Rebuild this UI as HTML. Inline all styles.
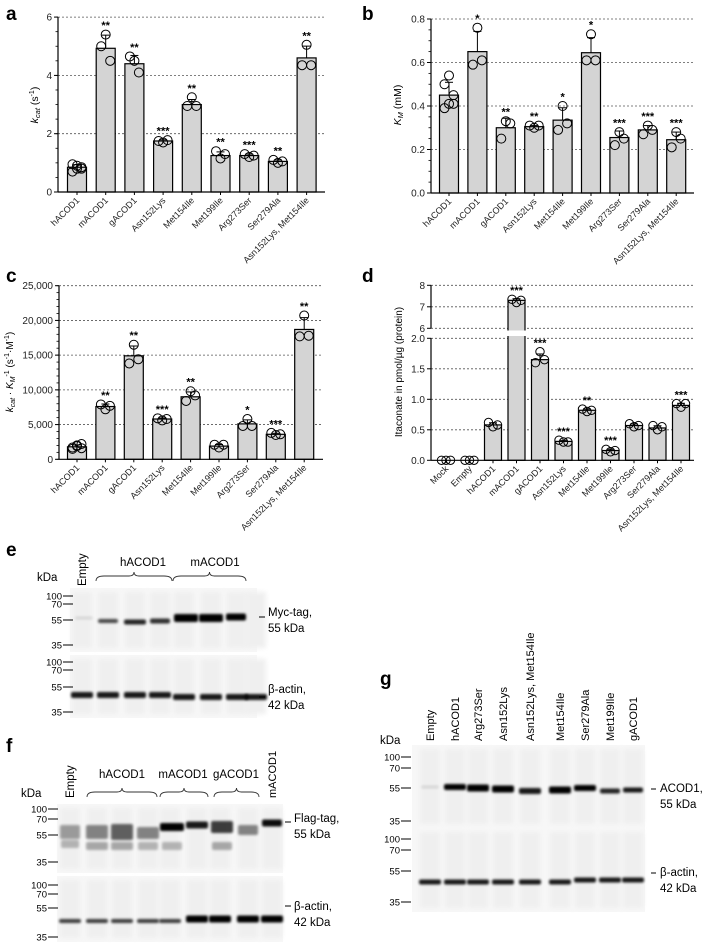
<!DOCTYPE html>
<html><head><meta charset="utf-8">
<style>
html,body{margin:0;padding:0;background:#fff;}
svg{display:block;font-family:"Liberation Sans",Arial,sans-serif;}
</style></head>
<body>
<svg id="fig" width="708" height="945" viewBox="0 0 708 945" xmlns="http://www.w3.org/2000/svg">
<defs>
<filter id="blur1" x="-20%" y="-100%" width="140%" height="300%"><feGaussianBlur stdDeviation="1.2"/></filter>
<filter id="blur2" x="-20%" y="-100%" width="140%" height="300%"><feGaussianBlur stdDeviation="2.5"/></filter>
</defs>
</svg>
<script>
// ---- Panel a data ----
const catsA = ["hACOD1","mACOD1","gACOD1","Asn152Lys","Met154Ile","Met199Ile","Arg273Ser","Ser279Ala","Asn152Lys, Met154Ile"];
const meansA = [0.85,4.93,4.4,1.75,3.0,1.25,1.25,1.05,4.6];
const ptsA = [[0.7,0.8,0.85,0.95,0.9,0.8],[5.4,5.0,4.5],[4.5,4.65,4.1],[1.7,1.75,1.78],[3.25,2.95,2.95],[1.15,1.4,1.3],[1.2,1.3,1.25],[1.0,1.1,1.05],[5.05,4.35,4.35]];
const sigA = ["","**","**","***","**","**","***","**","**"];
const ticksA = [0,2,4,6];
// ---- Panel b data ----
const catsB = catsA;
const meansB = [0.45,0.65,0.30,0.305,0.335,0.645,0.255,0.29,0.245];
const ptsB = [[0.39,0.41,0.45,0.5,0.54,0.41],[0.76,0.59,0.61],[0.33,0.25,0.32],[0.30,0.31,0.31],[0.40,0.29,0.32],[0.73,0.61,0.61],[0.28,0.22,0.25],[0.31,0.27,0.29],[0.28,0.21,0.25]];
const sigB = ["","*","**","**","*","*","***","***","***"];
const ticksB = [0,0.2,0.4,0.6,0.8];
const tickLabB = ["0.0","0.2","0.4","0.6","0.8"];
// ---- Panel c data ----
const catsC = catsA;
const meansC = [1800,7600,14900,5800,9000,1900,5100,3600,18700];
const ptsC = [[1500,1900,2200,1700,2000,1600],[7200,7900,7700],[16500,13800,14400],[5600,5900,5800],[9800,8400,9200],[1700,2100,2100],[5800,4800,4800],[3500,3800,3600],[20700,17700,17800]];
const sigC = ["","**","**","***","**","","*","***","**"];
const ticksC = [0,5000,10000,15000,20000,25000];
const tickLabC = ["0","5,000","10,000","15,000","20,000","25,000"];
// ---- Panel d data ----
const catsD = ["Mock","Empty","hACOD1","mACOD1","gACOD1","Asn152Lys","Met154Ile","Met199Ile","Arg273Ser","Ser279Ala","Asn152Lys, Met154Ile"];
const meansD = [0,0,0.58,7.3,1.65,0.31,0.82,0.16,0.57,0.53,0.9];
const ptsD = [[0,0,0],[0,0,0],[0.55,0.62,0.58],[7.2,7.35,7.3],[1.78,1.6,1.65],[0.3,0.33,0.3],[0.8,0.84,0.82],[0.14,0.18,0.16],[0.55,0.6,0.57],[0.5,0.57,0.55],[0.87,0.93,0.93]];
const sigD = ["","","","***","***","***","**","***","","","***"];
const ticksDlow = [0,0.5,1.0,1.5,2.0];
const tickLabDlow = ["0.0","0.5","1.0","1.5","2.0"];
const ticksDhigh = [6,7,8];

const NS="http://www.w3.org/2000/svg";
const fig=document.getElementById('fig');
function mk(tag,attrs,parent,text){const e=document.createElementNS(NS,tag);for(const k in attrs)e.setAttribute(k,attrs[k]);if(text!==undefined)e.textContent=text;(parent||fig).appendChild(e);return e;}
function sd(a){const m=a.reduce((s,v)=>s+v,0)/a.length;return Math.sqrt(a.reduce((s,v)=>s+(v-m)*(v-m),0)/(a.length-1));}

function drawChart(name,cfg,cats,means,pts,sig,ticks,tickLabs,minorStep){
  const g=mk('g',{});
  
  
  const y=cfg.y;
  const cx=i=>cfg.x0+i*cfg.step;
  ticks.forEach((t,i)=>{
    const yy=y(t);
    if(cfg.grid(t)){const l=mk('line',{x1:cfg.ox,x2:cfg.xr,y1:yy,y2:yy,stroke:'#555','stroke-width':0.8,'stroke-dasharray':'2,2'},g);
      }
  });
  cats.forEach((c,i)=>{
    const x=cx(i), top=y(means[i]), base=y(0);
    const r=mk('rect',{x:x-cfg.bw/2,y:top,width:cfg.bw,height:Math.max(0,base-top),fill:'#d4d4d4',stroke:'#000','stroke-width':1.2},g);
    
    
  });
  if(cfg.afterBars)cfg.afterBars(g);
  cats.forEach((c,i)=>{
    const x=cx(i);
    const s=sd(pts[i]);
    const eTop=y(means[i]+s);
    if(means[i]>0){
      mk('line',{x1:x,x2:x,y1:y(means[i]),y2:eTop,stroke:'#000','stroke-width':1},g);
      mk('line',{x1:x-4,x2:x+4,y1:eTop,y2:eTop,stroke:'#000','stroke-width':1},g);
    }
    const n=pts[i].length;
    let minY=eTop;
    pts[i].forEach((v,j)=>{
      const off=(n===3)?[0,-4.5,4.5][j]:((j%3)-1)*4.5;
      const py=y(v);
      const ci=mk('circle',{cx:x+off,cy:py,r:cfg.r,fill:'none',stroke:'#000','stroke-width':1},g);
      
      
      minY=Math.min(minY,py-cfg.r);
    });
    if(sig[i]){const t=mk('text',{x:x,y:minY-1,'font-size':11,'text-anchor':'middle','font-weight':'bold'},g,sig[i]);
      }
    const lb=mk('text',{x:x+3,y:cfg.y0+9,'font-size':9,'text-anchor':'end',fill:'#222',transform:`rotate(-45 ${x+3} ${cfg.y0+9})`},g,c);
    
    mk('line',{x1:x,x2:x,y1:cfg.y0,y2:cfg.y0+3,stroke:'#000','stroke-width':1},g);
  });
  mk('line',{x1:cfg.ox,x2:cfg.xr,y1:cfg.y0,y2:cfg.y0,stroke:'#000','stroke-width':1.2},g);
  if(cfg.yaxis)cfg.yaxis(g); else {
    mk('line',{x1:cfg.ox,x2:cfg.ox,y1:y(ticks[ticks.length-1]),y2:cfg.y0,stroke:'#000','stroke-width':1.2},g);
    if(minorStep){for(let v=ticks[0];v<=ticks[ticks.length-1]+1e-9;v+=minorStep){mk('line',{x1:cfg.ox-2.5,x2:cfg.ox,y1:y(v),y2:y(v),stroke:'#000','stroke-width':0.8},g);}}
    ticks.forEach((t,i)=>{
      mk('line',{x1:cfg.ox-4,x2:cfg.ox,y1:y(t),y2:y(t),stroke:'#000','stroke-width':1},g);
      const tl=mk('text',{x:cfg.ox-6,y:y(t)+3.5,'font-size':10,'text-anchor':'end',fill:'#222'},g,tickLabs[i]);
      
    });
  }
  return g;
}
function panelLetter(l,x,yy){const t=mk('text',{x:x,y:yy,'font-size':19,'font-weight':'bold'},fig,l);}

panelLetter('a',6,20);
drawChart('chart-a',{ox:58,xr:325,y0:192,x0:77,step:28.7,bw:19,r:4.5,y:v=>192-v*29.15,grid:t=>t>0},catsA,meansA,ptsA,sigA,ticksA,ticksA.map(String),0.5);
{const t=mk('text',{x:38,y:105,'font-size':10.5,'text-anchor':'middle',transform:'rotate(-90 38 105)'});
 t.innerHTML='<tspan font-style="italic">k</tspan><tspan font-style="italic" font-size="7.5" dy="2">cat</tspan><tspan dy="-2"> (s</tspan><tspan font-size="7" dy="-4">-1</tspan><tspan dy="4">)</tspan>';}

panelLetter('b',362,20);
drawChart('chart-b',{ox:431,xr:694,y0:193,x0:449,step:28.4,bw:19,r:4.5,y:v=>193-v*217.5,grid:t=>t>0},catsB,meansB,ptsB,sigB,ticksB,tickLabB,0.05);
{const t=mk('text',{x:401,y:105,'font-size':10.5,'text-anchor':'middle',transform:'rotate(-90 401 105)'});
 t.innerHTML='<tspan font-style="italic">K</tspan><tspan font-style="italic" font-size="7.5" dy="2">M</tspan><tspan dy="-2"> (mM)</tspan>';}

panelLetter('c',6,282);
drawChart('chart-c',{ox:59,xr:323,y0:459.3,x0:77,step:28.4,bw:19,r:4.5,y:v=>459.3-v*0.006944,grid:t=>t>0},catsC,meansC,ptsC,sigC,ticksC,tickLabC,1000);
{const t=mk('text',{x:13,y:372,'font-size':10,'text-anchor':'middle',transform:'rotate(-90 13 372)'});
 t.innerHTML='<tspan font-style="italic">k</tspan><tspan font-style="italic" font-size="7" dy="2">cat</tspan><tspan dy="-2"> · </tspan><tspan font-style="italic">K</tspan><tspan font-style="italic" font-size="7" dy="2">M</tspan><tspan font-size="7" dy="-6">-1</tspan><tspan dy="4"> (s</tspan><tspan font-size="7" dy="-4">-1</tspan><tspan dy="4">·M</tspan><tspan font-size="7" dy="-4">-1</tspan><tspan dy="4">)</tspan>';}

panelLetter('d',362,282);
const yD=v=> v<=2.5 ? 460.3-v*61 : 328.3-(v-6)*21.5;
drawChart('chart-d',{ox:431,xr:694,y0:460.3,x0:446,step:23.5,bw:17,r:4.2,y:yD,grid:t=>t>0,
  afterBars:g=>{mk('rect',{x:425,y:330.5,width:275,height:5.5,fill:'#fff'},g);},
  yaxis:g=>{
    mk('line',{x1:431,x2:431,y1:yD(2),y2:460.3,stroke:'#000','stroke-width':1.2},g);
    mk('line',{x1:431,x2:431,y1:yD(8),y2:yD(6),stroke:'#000','stroke-width':1.2},g);
    ticksDlow.forEach((t,i)=>{mk('line',{x1:427,x2:431,y1:yD(t),y2:yD(t),stroke:'#000','stroke-width':1},g);
      const tl=mk('text',{x:425,y:yD(t)+3.5,'font-size':10,'text-anchor':'end',fill:'#222'},g,tickLabDlow[i]);});
    ticksDhigh.forEach(t=>{mk('line',{x1:427,x2:431,y1:yD(t),y2:yD(t),stroke:'#000','stroke-width':1},g);
      const tl=mk('text',{x:425,y:yD(t)+3.5,'font-size':10,'text-anchor':'end',fill:'#222'},g,String(t));});
  }},catsD,meansD,ptsD,sigD,ticksDlow.concat(ticksDhigh),[],0);
{const t=mk('text',{x:402,y:372,'font-size':10,'text-anchor':'middle',transform:'rotate(-90 402 372)'},fig,'Itaconate in pmol/µg (protein)');}

function blot(name,x,y,w,h,lanes,bands,markers,mx){
  const g=mk('g',{});
  mk('rect',{x:x,y:y,width:w,height:h,fill:'#f7f7f7'},g);
  lanes.forEach(lx=>{mk('rect',{x:lx-10,y:y+4,width:20,height:h-8,fill:'#efefef',filter:'url(#blur2)'},g);});
  bands.forEach(b=>{mk('rect',{x:b[0]-b[2]/2,y:b[1]-b[3]/2,width:b[2],height:b[3],rx:2,fill:'#000',opacity:b[4],filter:'url(#blur1)'},g);});
  markers.forEach(m=>{mk('line',{x1:mx+1,x2:mx+11,y1:m[1],y2:m[1],stroke:'#000','stroke-width':1},g);
    const t=mk('text',{x:mx,y:m[1]+3.5,'font-size':9.5,'text-anchor':'end'},g,m[0]);});
  return g;
}
function txt(s,x,y,opt){const t=mk('text',Object.assign({x:x,y:y,'font-size':11.5},opt||{}),fig,s);return t;}
function brace(x1,x2,y){const m=(x1+x2)/2;const p=mk('path',{d:`M${x1},${y+9} Q${x1},${y+4} ${x1+8},${y+4} L${m-5},${y+4} Q${m},${y+4} ${m},${y} Q${m},${y+4} ${m+5},${y+4} L${x2-8},${y+4} Q${x2},${y+4} ${x2},${y+9}`,fill:'none',stroke:'#333','stroke-width':0.9});}

panelLetter('e',6,556);
txt('kDa',37,581);
txt('Empty',86,586,{transform:'rotate(-90 86 586)'});
txt('hACOD1',143,566,{'text-anchor':'middle'});
txt('mACOD1',215,566,{'text-anchor':'middle'});
brace(96,172,572);brace(173,246,572);
const lanesE=[82,108,135,160,184,211,237,256];
blot('blot-e-myc',70,588,187,64,lanesE,[[108,621,20,4,0.7],[135,622,22,5,0.85],[160,621,20,5,0.8],[186,618,24,8,1],[211,618,24,8,1],[236,617,20,7,1],[84,618,18,3,0.1]],[['100',596],['70',604],['55',620],['35',645]],62);
blot('blot-e-actin',70,655,187,63,lanesE,lanesE.map((lx,i)=>[lx,i<4?695:697,22,6,0.9]),[['100',662],['70',670],['55',687],['35',712]],62);
mk('line',{x1:259,x2:265,y1:617,y2:617,stroke:'#000'});mk('line',{x1:259,x2:265,y1:697,y2:697,stroke:'#000'});
txt('Myc-tag,',268,616);txt('55 kDa',268,632);txt('β-actin,',268,693);txt('42 kDa',268,709);

panelLetter('f',6,752);
txt('kDa',21,797);
txt('Empty',74,798,{transform:'rotate(-90 74 798)'});
txt('hACOD1',122,778,{'text-anchor':'middle'});txt('mACOD1',183,778,{'text-anchor':'middle'});txt('gACOD1',236,778,{'text-anchor':'middle'});
txt('mACOD1',276,798,{transform:'rotate(-90 276 798)','font-size':11});
brace(87,157,788);brace(160,208,788);brace(214,259,788);
const lanesF=[70,97,122,148,170,197,220,248,272];
blot('blot-f-flag',57,804,226,69,lanesF,[[70,832,20,14,0.35],[97,832,22,14,0.45],[122,832,22,16,0.6],[148,833,22,12,0.45],[172,827,24,8,1],[197,825,22,7,0.9],[222,827,22,12,0.75],[248,830,20,10,0.45],[272,823,20,7,0.95],[70,844,18,8,0.25],[97,846,22,8,0.3],[122,846,22,8,0.3],[148,846,20,8,0.25],[172,846,20,8,0.25],[222,846,20,8,0.3]],[['100',809],['70',819],['55',835],['35',862]],47);
blot('blot-f-actin',57,876,226,66,lanesF,lanesF.map((lx,i)=>[lx,i<5?921:919,22,i<5?4:7,i<5?0.75:1]),[['100',885],['70',894],['55',908],['35',937]],47);
mk('line',{x1:285,x2:291,y1:822,y2:822,stroke:'#000'});mk('line',{x1:285,x2:291,y1:906,y2:906,stroke:'#000'});
txt('Flag-tag,',294,822);txt('55 kDa',294,838);txt('β-actin,',294,910);txt('42 kDa',294,926);

panelLetter('g',380,685);
txt('kDa',380,744);
const lanesG=[430,455,478,503,530,560,585,610,633];
const laneLabG=['Empty','hACOD1','Arg273Ser','Asn152Lys','Asn152Lys, Met154Ile','Met154Ile','Ser279Ala','Met199Ile','gACOD1'];
laneLabG.forEach((s,i)=>{txt(s,lanesG[i]+4,741,{transform:`rotate(-90 ${lanesG[i]+4} 741)`,'font-size':11});});
blot('blot-g-acod1',412,745,233,83,lanesG,[[455,787,22,6,1],[478,788,22,7,1],[503,789,22,7,1],[530,791,22,6,0.9],[560,790,22,7,1],[585,788,22,6,1],[610,791,20,5,0.85],[633,790,20,5,0.9],[430,787,18,3,0.1]],[['100',757],['70',768],['55',788],['35',821]],400);
blot('blot-g-actin',412,828,233,84,lanesG,lanesG.map((lx,i)=>[lx,882-(i>5?2:0),22,5,0.9]),[['100',839],['70',850],['55',871],['35',902]],400);
mk('line',{x1:651,x2:656,y1:789,y2:789,stroke:'#000'});mk('line',{x1:651,x2:656,y1:873,y2:873,stroke:'#000'});
txt('ACOD1,',660,792);txt('55 kDa',660,808);txt('β-actin,',660,876);txt('42 kDa',660,892);
</script>
</body></html>
